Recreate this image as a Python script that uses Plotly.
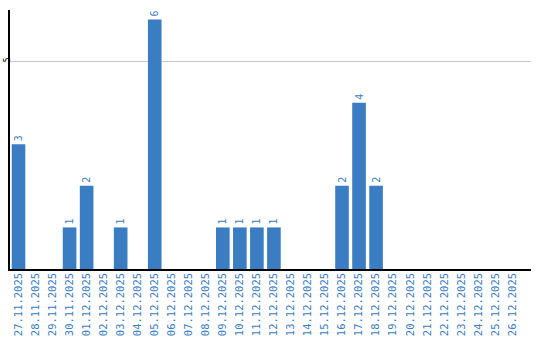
import plotly.graph_objects as go

dates = ["27.11.2025", "28.11.2025", "29.11.2025", "30.11.2025", "01.12.2025",
         "02.12.2025", "03.12.2025", "04.12.2025", "05.12.2025", "06.12.2025",
         "07.12.2025", "08.12.2025", "09.12.2025", "10.12.2025", "11.12.2025",
         "12.12.2025", "13.12.2025", "14.12.2025", "15.12.2025", "16.12.2025",
         "17.12.2025", "18.12.2025", "19.12.2025", "20.12.2025", "21.12.2025",
         "22.12.2025", "23.12.2025", "24.12.2025", "25.12.2025", "26.12.2025"]
counts = [3, 0, 0, 1, 2, 0, 1, 0, 6, 0,
          0, 0, 1, 1, 1, 1, 0, 0, 0, 2,
          4, 2, 0, 0, 0, 0, 0, 0, 0, 0]
labels = [str(v) if v > 0 else "" for v in counts]

blue = "#3a7dc2"

fig = go.Figure(go.Bar(
    x=dates, y=counts, text=labels, textposition="outside", textangle=-90,
    cliponaxis=False,
    textfont=dict(family="DejaVu Sans Mono", size=10, color=blue),
    marker=dict(color=blue, line=dict(width=0)), width=0.8,
))

fig.update_layout(
    width=540, height=340,
    margin=dict(l=10, r=9, t=10, b=71),
    paper_bgcolor="white", plot_bgcolor="white",
    showlegend=False, bargap=0.2,
    uniformtext=dict(minsize=1, mode=False),
)
fig.update_xaxes(
    type="category", range=[-0.5, 30.1], tickangle=-90, automargin=False,
    tickfont=dict(family="DejaVu Sans Mono", size=10.5, color=blue),
    ticklabelstandoff=-2,
    showline=True, linecolor="black", linewidth=1.5, showgrid=False,
    ticks="", ticklen=0,
)
fig.update_yaxes(
    range=[0, 6.23], tickvals=[5], ticktext=["5"], tickangle=-90, automargin=False,
    tickfont=dict(family="DejaVu Sans Mono", size=8, color="black"),
    ticklabelstandoff=-5,
    showline=True, linecolor="black", linewidth=1.5,
    showgrid=True, gridcolor="#c8c8c8", gridwidth=1, zeroline=False,
    ticks="", ticklen=0,
)

fig.write_html("out.html")
